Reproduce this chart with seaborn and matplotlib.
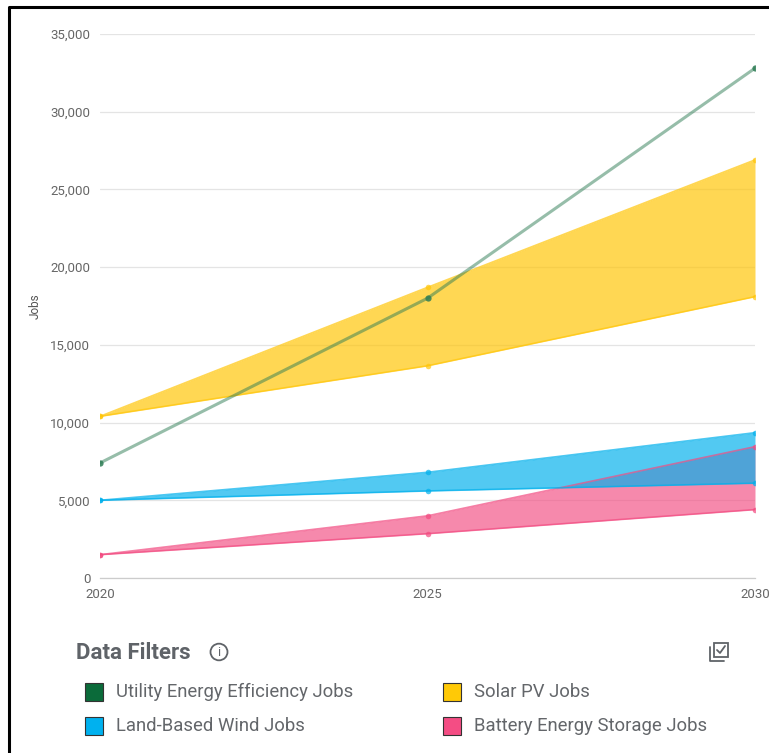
import matplotlib
matplotlib.use("Agg")
import matplotlib.pyplot as plt
import seaborn as sns
import pandas as pd
from matplotlib.patches import Rectangle, Circle
from matplotlib.lines import Line2D
from matplotlib.ticker import FuncFormatter

# data
years = [2020, 2025, 2030]
utility = [7400, 18000, 32800]
solar_low = [10400, 13650, 18100]
solar_high = [10400, 18700, 26900]
wind_low = [5000, 5600, 6100]
wind_high = [5000, 6800, 9350]
battery_low = [1500, 2850, 4400]
battery_high = [1500, 4000, 8450]

legend_labels = ["Utility Energy Efficiency Jobs", "Solar PV Jobs",
                 "Land-Based Wind Jobs", "Battery Energy Storage Jobs"]
legend_colors = ["#0b6b3a", "#ffc906", "#00b1ef", "#f44d84"]

sns.set_theme(style="white")
plt.rcParams["font.family"] = ["Roboto", "DejaVu Sans"]

W, H = 769, 753
fig = plt.figure(figsize=(W / 100, H / 100), dpi=100)
fig.patch.set_facecolor("white")

def fx(px):
    return px / W

def fy(py):
    return 1 - py / H

ax = fig.add_axes([fx(100), fy(578), fx(755) - fx(100), fy(34) - fy(578)])
ax.set_facecolor("white")

df = pd.DataFrame({"year": years, "utility": utility,
                   "solar_low": solar_low, "solar_high": solar_high,
                   "wind_low": wind_low, "wind_high": wind_high,
                   "battery_low": battery_low, "battery_high": battery_high})

# range bands
bands = [("solar", "#ffc60a", 0.7), ("battery", "#f24a80", 0.65), ("wind", "#00b0ec", 0.68)]
for name, col, a in bands:
    ax.fill_between(df["year"], df[name + "_low"], df[name + "_high"],
                    color=col, alpha=a, linewidth=0, zorder=2)
    for edge in ("_low", "_high"):
        sns.lineplot(data=df, x="year", y=name + edge, ax=ax, color=col,
                     alpha=0.7, linewidth=1.2, marker="o", markersize=4,
                     markeredgewidth=0, zorder=3)

# utility efficiency line
sns.lineplot(data=df, x="year", y="utility", ax=ax, color="#2e7d55",
             alpha=0.5, linewidth=2.2, zorder=4)
sns.lineplot(data=df, x="year", y="utility", ax=ax, color="#2e7d55",
             alpha=0.85, linewidth=0, marker="o", markersize=4.5,
             markeredgewidth=0, zorder=5)

ax.set_xlim(2020, 2030)
ax.set_ylim(0, 35000)
ax.set_yticks(range(0, 35001, 5000))
ax.set_xticks(years)
ax.yaxis.set_major_formatter(FuncFormatter(lambda v, p: f"{int(v):,}"))
ax.grid(axis="y", color="#e4e4e4", linewidth=0.9, zorder=0)
ax.grid(axis="x", visible=False)
for s in ["top", "right", "left"]:
    ax.spines[s].set_visible(False)
ax.spines["bottom"].set_color("#cccccc")
ax.spines["bottom"].set_linewidth(0.9)
ax.tick_params(axis="y", length=0, pad=7, labelsize=9.5, labelcolor="#666666")
ax.tick_params(axis="x", length=0, pad=7, labelsize=9.5, labelcolor="#666666")
ax.set_xlabel("")
ax.set_ylabel("Jobs", fontsize=8.5, color="#555555", labelpad=6)

# legend / filter panel
fig.text(fx(76), fy(653), "Data Filters", fontsize=16, fontweight="bold",
         color="#5f6368", va="center", ha="left")
fig.add_artist(Circle((fx(219), fy(652)), 8.5 / W, transform=fig.transFigure,
                      fill=False, edgecolor="#5f6368", linewidth=1.3))
fig.text(fx(219), fy(652.5), "i", fontsize=9, color="#5f6368",
         va="center", ha="center")

pos = [(85, 692), (443, 692), (85, 726), (443, 726)]
for (px, py), lab, col in zip(pos, legend_labels, legend_colors):
    fig.add_artist(Rectangle((fx(px), fy(py + 9)), 18 / W, 18 / H,
                             transform=fig.transFigure, facecolor=col,
                             edgecolor="#333333", linewidth=0.8))
    fig.text(fx(px + 31), fy(py), lab, fontsize=13.3, color="#63666a",
             va="center", ha="left")

# select-all icon
fig.add_artist(Rectangle((fx(714), fy(657)), 14 / W, 14 / H,
                         transform=fig.transFigure, fill=False,
                         edgecolor="#5f6368", linewidth=1.3))
fig.add_artist(Line2D([fx(710), fx(710), fx(724)], [fy(647), fy(661), fy(661)],
                      transform=fig.transFigure, color="#5f6368", linewidth=1.3))
fig.add_artist(Line2D([fx(717), fx(720), fx(725)], [fy(650), fy(653), fy(646)],
                      transform=fig.transFigure, color="#5f6368", linewidth=1.3))

# screenshot frame on the left and top
fig.add_artist(Line2D([fx(9), fx(9), fx(769)], [0, fy(6.5), fy(6.5)],
                      transform=fig.transFigure, color="black", linewidth=2.2))

fig.savefig("out.png", dpi=100, facecolor="white")
